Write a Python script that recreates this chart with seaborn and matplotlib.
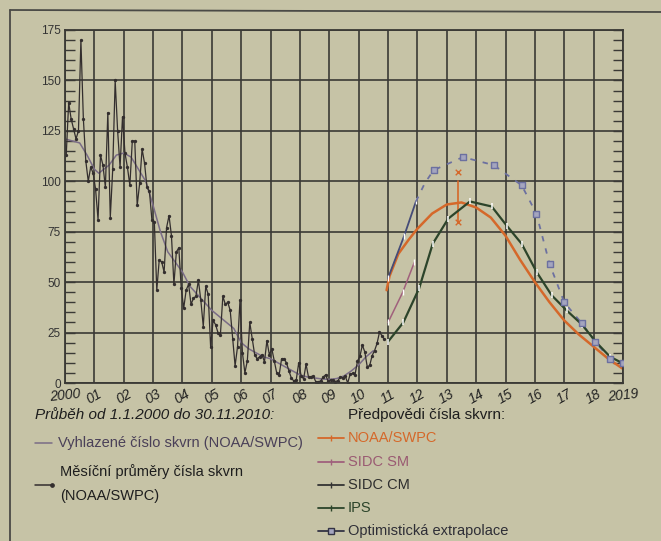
import numpy as np
import pandas as pd
import matplotlib
matplotlib.use("Agg")
import matplotlib.pyplot as plt
from matplotlib.lines import Line2D
from matplotlib.ticker import MultipleLocator
import seaborn as sns

# monthly mean sunspot numbers (NOAA/SWPC), Jan 2000 - Nov 2010
monthly_2000 = [113, 139, 131, 126, 121, 125, 170, 131, 110, 100, 107, 104]
monthly_2001 = [96, 81, 113, 108, 97, 134, 82, 106, 150, 125, 107, 132]
monthly_2002 = [114, 107, 98, 120, 120, 88, 99, 116, 109, 97, 95, 81]
monthly_2003 = [80, 46, 61, 60, 55, 77, 83, 73, 49, 65, 67, 47]
monthly_2004 = [37, 46, 49, 39, 42, 43, 51, 41, 28, 48, 44, 18]
monthly_2005 = [31, 29, 25, 24, 43, 39, 40, 36, 22, 8.5, 18, 41]
monthly_2006 = [15, 5, 11, 30, 22, 14, 12, 13, 14, 10.5, 21, 14]
monthly_2007 = [17, 11, 5, 4, 12, 12, 10, 6, 2.4, 1, 1.7, 10]
monthly_2008 = [3.4, 2.1, 9.3, 2.9, 3.2, 3.4, 0.5, 0.5, 1.1, 2.9, 4.1, 0.8]
monthly_2009 = [1.5, 1.4, 0.7, 1.2, 2.9, 2.6, 3.5, 0, 4.3, 4.8, 4.1, 10.8]
monthly_2010 = [13.2, 18.8, 15.4, 8, 8.7, 13.6, 16.1, 19.6, 25.2, 23.5, 21.6]

# smoothed sunspot number, read quarterly
smooth_t = [2000.0, 2000.25, 2000.5, 2000.75, 2001.0, 2001.15, 2001.5, 2001.75,
            2002.0, 2002.25, 2002.5, 2002.75, 2003.0, 2003.25, 2003.5, 2003.75,
            2004.0, 2004.25, 2004.5, 2004.75, 2005.0, 2005.25, 2005.5, 2005.75,
            2006.0, 2006.25, 2006.5, 2006.75, 2007.0, 2007.25, 2007.5, 2007.75,
            2008.0, 2008.25, 2008.5, 2008.75, 2009.0, 2009.25, 2009.5, 2009.75,
            2010.0, 2010.25, 2010.5]
smooth_v = [121, 120, 119, 113, 106, 104, 108, 113,
            114, 112, 106, 100, 88, 75, 65, 60,
            55, 48, 44, 40, 36, 33, 30, 27,
            20, 17, 15, 13, 12, 10, 8, 6,
            4, 3, 2.5, 2, 1.8, 2.2, 3.5, 6,
            9, 13, 16]

# forecasts
noaa_t = [2010.95, 2011.05, 2011.35, 2011.7, 2012.0, 2012.5, 2013.0, 2013.5, 2014.0,
          2014.5, 2015.0, 2015.5, 2016.0, 2016.5, 2017.0, 2017.5, 2018.0, 2018.5, 2019.0]
noaa_v = [46, 53, 64, 71, 76.5, 84, 88.5, 89.5, 87, 82, 73, 61, 50, 40, 31, 24, 18, 12, 7]
noaa_peak_t = 2013.37
noaa_range = [80, 100]
noaa_marks = [80, 104.5]

sidc_sm_t = [2011.0, 2011.5, 2011.9]
sidc_sm_v = [30, 45, 60]

sidc_cm_t = [2011.0, 2011.55, 2011.95]
sidc_cm_v = [52, 73, 90]

ips_t = [2011.0, 2011.52, 2012.06, 2012.52, 2013.05, 2013.79, 2014.53, 2015.04, 2015.55,
         2016.06, 2016.57, 2017.08, 2017.6, 2018.1, 2018.56, 2019.0]
ips_v = [20.5, 30, 47, 69, 81.5, 90, 87.5, 78, 69, 55, 43.5, 36, 29, 20, 13, 9.7]

opt_t = [2011.95, 2012.25, 2012.55, 2013.55, 2014.6, 2015.55, 2016.05, 2016.5, 2017.0,
         2017.6, 2018.05, 2018.55, 2019.0]
opt_v = [90, 99, 105.5, 112, 108, 98, 84, 59, 40, 29.5, 20.5, 12, 9.7]

years = list(range(2000, 2020))
year_labels = ["2000"] + ["%02d" % (y % 100) for y in years[1:-1]] + ["2019"]

# colours
paper = "#c6c3a6"
grid_c = "#3a3935"
c_month = "#332e2e"
c_smooth = "#7a6c86"
c_noaa = "#d5682a"
c_sm = "#a0607c"
c_cm = "#454c78"
c_ips = "#2c442a"
c_opt = "#6c70a0"

monthly = (monthly_2000 + monthly_2001 + monthly_2002 + monthly_2003 + monthly_2004
           + monthly_2005 + monthly_2006 + monthly_2007 + monthly_2008 + monthly_2009
           + monthly_2010)
df_month = pd.DataFrame({
    "t": 2000 + (np.arange(len(monthly)) + 0.5) / 12,
    "ssn": monthly,
})

sns.set_style("white")
plt.rcParams["font.family"] = ["Liberation Sans", "DejaVu Sans"]

fig = plt.figure(figsize=(6.61, 5.41), dpi=100, facecolor=paper)
ax = fig.add_axes([65 / 661, 158 / 541, 558 / 661, 353 / 541])
ax.set_facecolor(paper)

# observed
sns.lineplot(x=smooth_t, y=smooth_v, ax=ax, color=c_smooth, lw=1.1)
sns.lineplot(data=df_month, x="t", y="ssn", ax=ax, color=c_month, lw=0.9,
             marker="o", markersize=2.4, markeredgewidth=0)

# predictions
sns.lineplot(x=noaa_t, y=noaa_v, ax=ax, color=c_noaa, lw=1.8)
ax.plot([noaa_peak_t, noaa_peak_t], noaa_range, color=c_noaa, lw=1.2)
sns.scatterplot(x=[noaa_peak_t] * 2, y=noaa_marks, ax=ax, color=c_noaa, marker="x",
                s=16, linewidth=1)
sns.lineplot(x=sidc_sm_t, y=sidc_sm_v, ax=ax, color=c_sm, lw=1.1, marker="|",
             markersize=5, markeredgewidth=1)
sns.lineplot(x=sidc_cm_t, y=sidc_cm_v, ax=ax, color=c_cm, lw=1.3, marker="|",
             markersize=5, markeredgewidth=1)
sns.lineplot(x=opt_t, y=opt_v, ax=ax, color=c_opt, lw=1.3, linestyle=(0, (3, 4)))
sns.scatterplot(x=opt_t[2:], y=opt_v[2:], ax=ax, marker="s", s=20, color="#a4a5bf",
                edgecolor=c_opt, linewidth=1.0, zorder=5)
sns.lineplot(x=ips_t, y=ips_v, ax=ax, color=c_ips, lw=1.6, marker="|",
             markersize=5, markeredgewidth=1.1)

# axes
ax.set_xlim(2000, 2019)
ax.set_ylim(0, 175)
ax.set_xticks(years)
ax.set_xticklabels(year_labels, fontsize=10, style="italic", color="#222222")
for i, lab in enumerate(ax.get_xticklabels()):
    lab.set_rotation(6 if i in (0, len(years) - 1) else 30)
ax.yaxis.set_major_locator(MultipleLocator(25))
ax.yaxis.set_minor_locator(MultipleLocator(5))
ax.tick_params(axis="y", which="both", direction="in", length=7, width=1,
               left=True, right=True, color=grid_c, labelsize=8.5, labelcolor="#333333",
               pad=3)
ax.tick_params(axis="x", length=0, pad=3)
ax.grid(True, which="major", color=grid_c, lw=1.2)
for s in ax.spines.values():
    s.set_color(grid_c)
    s.set_linewidth(1.3)
ax.set_xlabel("")
ax.set_ylabel("")

# outer frame of the printed figure
fig.add_artist(Line2D([10 / 661, 10 / 661], [0, 531 / 541], transform=fig.transFigure,
                      color="#4a4a46", lw=1.3))
fig.add_artist(Line2D([10 / 661, 1], [531 / 541, 529 / 541], transform=fig.transFigure,
                      color="#4a4a46", lw=1.3))


def fy(y):
    return (541 - y) / 541


def fx(x):
    return x / 661


# left legend
fig.text(fx(35), fy(415), "Průběh od 1.1.2000 do 30.11.2010:", fontsize=11,
         style="italic", va="center", color="#1e1e1e")
fig.add_artist(Line2D([fx(35), fx(52)], [fy(443)] * 2, transform=fig.transFigure,
                      color=c_smooth, lw=1.1))
fig.text(fx(58), fy(443), "Vyhlazené číslo skvrn (NOAA/SWPC)", fontsize=10.5,
         va="center", color="#4a4058")
fig.add_artist(Line2D([fx(35), fx(52)], [fy(485)] * 2, transform=fig.transFigure,
                      color=c_month, lw=1.1, marker="o", markersize=2.4,
                      markevery=[1]))
fig.text(fx(60), fy(472), "Měsíční průměry čísla skvrn", fontsize=10.5, va="center",
         color="#1e1e1e")
fig.text(fx(60), fy(496), "(NOAA/SWPC)", fontsize=10.5, va="center", color="#1e1e1e")

# right legend
fig.text(fx(348), fy(415), "Předpovědi čísla skvrn:", fontsize=11, va="center",
         color="#1e1e1e")
entries = [
    ("NOAA/SWPC", c_noaa, c_noaa, "|", 438),
    ("SIDC SM", c_sm, "#9a5a72", "|", 462),
    ("SIDC CM", "#333333", "#2e2e2e", "|", 485),
    ("IPS", c_ips, c_ips, "|", 508),
    ("Optimistická extrapolace", "#333344", "#2e2e36", "s", 531),
]
for name, lc, tc, mk, yy in entries:
    fig.add_artist(Line2D([fx(318), fx(331), fx(344)], [fy(yy)] * 3,
                          transform=fig.transFigure, color=lc, lw=1.3, marker=mk,
                          markersize=4.5 if mk == "s" else 5, markevery=[1],
                          markerfacecolor="#a4a5bf" if mk == "s" else lc))
    fig.text(fx(348), fy(yy), name, fontsize=10.5, va="center", color=tc)

fig.savefig("out.png", dpi=100, facecolor=paper)
